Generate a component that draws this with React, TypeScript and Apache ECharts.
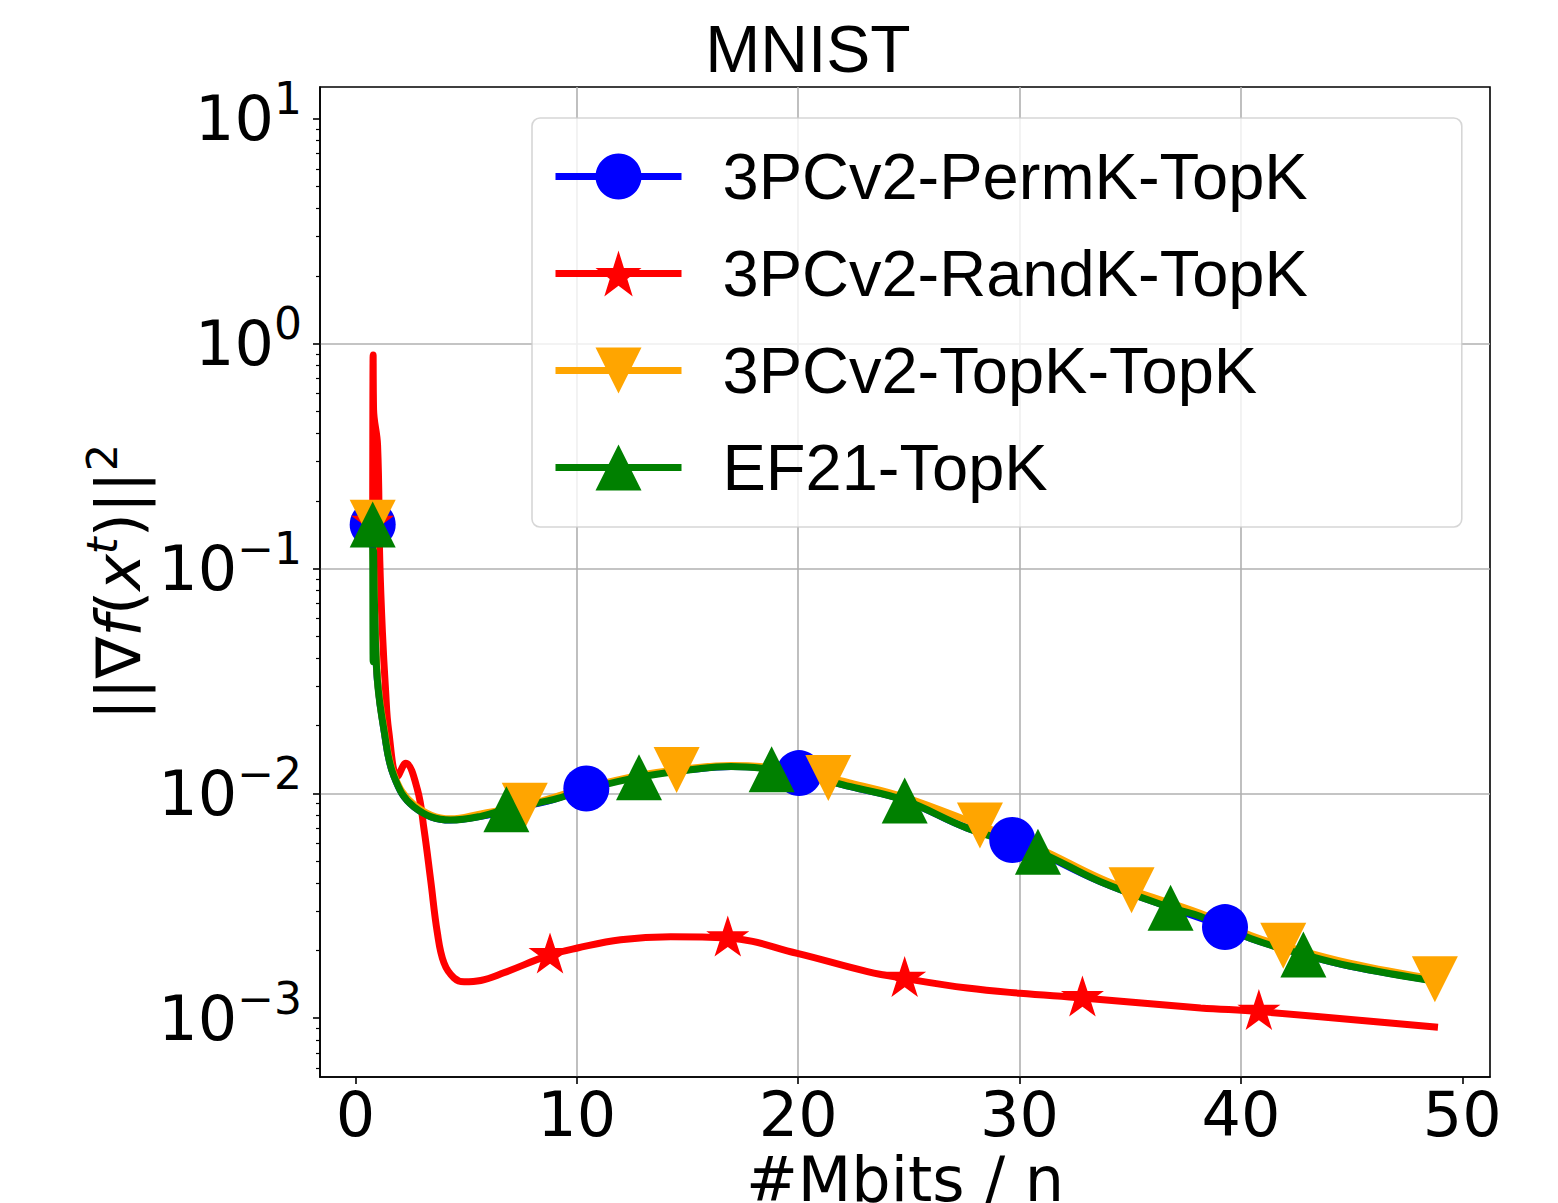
import React, { useEffect, useRef } from "react";
import * as echarts from "echarts";

const chartTitle = "MNIST";
const xTicks = [0, 10, 20, 30, 40, 50];
const yDecades = [-3, -2, -1, 0, 1];
const names = ["3PCv2-PermK-TopK", "3PCv2-RandK-TopK", "3PCv2-TopK-TopK", "EF21-TopK"];

const permkX = [0.78, 0.9, 0.99, 1.29, 1.74, 2.65, 4.3, 5.66, 7.5, 8.97, 10.43, 12.8, 15.6, 17.0, 18.8, 20.04, 22.37, 24.81, 27.64, 29.67, 30.83, 33.66, 36.82, 39.28, 40.44, 42.82, 44.96, 48.5];
const permkY = [0.157, 0.05, 0.032, 0.0191, 0.0119, 0.0087, 0.0076, 0.0079, 0.0087, 0.0094, 0.0105, 0.0119, 0.0129, 0.01315, 0.0129, 0.0123, 0.0107, 0.0093, 0.007, 0.0062, 0.0055, 0.00404, 0.0031, 0.00254, 0.00226, 0.00192, 0.0017, 0.00148];
const permkMarks = [0.78, 10.43, 20.04, 29.67, 39.28];

const randkX = [0.78, 0.8, 0.82, 1.0, 1.1, 1.22, 1.36, 1.5, 1.9, 2.27, 2.8, 3.1, 3.4, 3.7, 4.0, 4.45, 4.91, 5.66, 6.7, 8.79, 10.03, 11.98, 14.24, 16.82, 19.96, 23.13, 24.81, 27.64, 30.02, 32.84, 38.18, 40.81, 48.9];
const randkY = [0.16, 0.89, 0.51, 0.355, 0.109, 0.052, 0.029, 0.0191, 0.0119, 0.0136, 0.0104, 0.0069, 0.0041, 0.0024, 0.00176, 0.00151, 0.00145, 0.00147, 0.00159, 0.00191, 0.00205, 0.00223, 0.0023, 0.00227, 0.00194, 0.00161, 0.0015, 0.00136, 0.00129, 0.00123, 0.00111, 0.00107, 0.00091];
const randkMarks = [0.78, 8.79, 16.82, 24.81, 32.84, 40.81];

const topkX = [0.78, 0.82, 0.99, 1.29, 1.74, 2.65, 4.3, 5.66, 7.65, 8.97, 10.43, 12.81, 14.51, 16.95, 18.8, 21.36, 22.37, 24.81, 28.21, 30.83, 33.66, 35.06, 38.18, 40.44, 41.91, 44.96, 48.76];
const topkY = [0.16, 0.1, 0.033, 0.0195, 0.0121, 0.0089, 0.0077, 0.0081, 0.0088, 0.0096, 0.0106, 0.012, 0.0127, 0.0133, 0.013, 0.0117, 0.0111, 0.0096, 0.0072, 0.0057, 0.00418, 0.0037, 0.00292, 0.00233, 0.0021, 0.00175, 0.00149];
const topkMarks = [0.78, 7.65, 14.51, 21.36, 28.21, 35.06, 41.91, 48.76];

const ef21X = [0.78, 0.8, 0.82, 0.86, 0.99, 1.29, 1.74, 2.65, 4.3, 5.66, 6.82, 8.97, 10.43, 12.81, 15.6, 16.95, 18.8, 20.1, 22.37, 24.81, 27.64, 30.83, 33.66, 36.82, 38.18, 40.44, 42.82, 44.96, 48.94];
const ef21Y = [0.157, 0.0385, 0.12, 0.07, 0.032, 0.0191, 0.0119, 0.0087, 0.0076, 0.0079, 0.0085, 0.0094, 0.0104, 0.0118, 0.0129, 0.01315, 0.0128, 0.0122, 0.0107, 0.0093, 0.007, 0.0055, 0.00404, 0.0031, 0.00283, 0.00226, 0.00192, 0.0017, 0.00145];
const ef21Marks = [0.78, 6.82, 12.81, 18.8, 24.81, 30.83, 36.82, 42.82];

const STAR =
  "path://M0,-100 L22.45,-30.9 L95.1,-30.9 L36.33,11.8 L58.8,80.9 L0,38.2 L-58.8,80.9 L-36.33,11.8 L-95.1,-30.9 L-22.45,-30.9 Z";

const X_MIN = -1.6;
const X_MAX = 51.25;
const Y_MIN = -3.262;
const Y_MAX = 1.142;

function buildData(xs: number[], ys: number[], marks: number[]) {
  return xs.map((x, i) => {
    const item: any = { value: [x, Math.log10(ys[i])] };
    if (!marks.includes(x)) item.symbol = "none";
    return item;
  });
}

function minorTickValues() {
  const out: number[] = [];
  for (let n = -4; n <= 1; n++) {
    for (let k = 2; k <= 9; k++) {
      const v = Math.log10(k) + n;
      if (v > Y_MIN && v < Y_MAX) out.push(v);
    }
  }
  return out;
}

const FONT = "DejaVu Sans";
const LFONT = "Liberation Sans";
const LW = 7;

export default function App() {
  const ref = useRef<HTMLDivElement>(null);
  useEffect(() => {
    if (!ref.current) return;
    const chart = echarts.init(ref.current, null, { renderer: "svg" });
    const lineCommon = {
      type: "line",
      smooth: 0.4,
      showSymbol: true,
      emphasis: { disabled: true },
      clip: true,
    };
    const option: any = {
      animation: false,
      backgroundColor: "#ffffff",
      title: {
        text: chartTitle,
        left: 803,
        top: 11,
        textAlign: "center",
        textStyle: { fontFamily: LFONT, fontSize: 66, fontWeight: "normal", color: "#000", lineHeight: 66 },
      },
      grid: {
        left: 320,
        top: 87,
        width: 1170,
        height: 990,
        containLabel: false,
        outerBoundsMode: "none",
        show: true,
        borderColor: "#000",
        borderWidth: 1.6,
        backgroundColor: "transparent",
      },
      legend: {
        orient: "vertical",
        left: 532,
        top: 118,
        itemWidth: 126,
        itemHeight: 57.5,
        itemGap: 32,
        padding: [26, 154, 27, 20],
        backgroundColor: "rgba(255,255,255,0.8)",
        borderColor: "rgba(204,204,204,0.8)",
        borderWidth: 1.6,
        borderRadius: 8,
        lineStyle: { width: LW },
        textStyle: { fontFamily: LFONT, fontSize: 65, color: "#000", lineHeight: 65, padding: [0, 0, 0, 36] },
        data: names,
      },
      xAxis: {
        type: "value",
        min: X_MIN,
        max: X_MAX,
        minInterval: 10,
        maxInterval: 10,
        axisLine: { show: true, onZero: false, lineStyle: { color: "#000", width: 1.6 } },
        axisTick: { show: true, length: 7, lineStyle: { color: "#000", width: 1.6 }, customValues: xTicks },
        axisLabel: {
          customValues: xTicks,
          fontFamily: FONT,
          fontSize: 62,
          lineHeight: 62,
          color: "#000",
          margin: 6,
        },
        splitLine: { show: true, showMinLine: false, showMaxLine: false, lineStyle: { color: "#b0b0b0", width: 1.6 } },
        name: "#Mbits / n",
        nameLocation: "middle",
        nameGap: 71,
        nameMoveOverlap: false,
        nameTextStyle: { fontFamily: FONT, fontSize: 62, lineHeight: 62, color: "#000" },
      },
      yAxis: [
        {
          type: "value",
          min: Y_MIN,
          max: Y_MAX,
          minInterval: 1,
          maxInterval: 1,
          axisLine: { show: true, onZero: false, lineStyle: { color: "#000", width: 1.6 } },
          axisTick: { show: true, length: 7, lineStyle: { color: "#000", width: 1.6 }, customValues: yDecades },
          axisLabel: {
            customValues: yDecades,
            margin: 18,
            formatter: (v: number) => {
              const e = Math.round(v);
              return `{b|10}{s|${e < 0 ? "\u2212" + Math.abs(e) : e}}`;
            },
            rich: {
              b: { fontFamily: FONT, fontSize: 62, lineHeight: 62, color: "#000" },
              s: { fontFamily: FONT, fontSize: 44, lineHeight: 44, color: "#000", padding: [0, 0, 40, 0] },
            },
          },
          splitLine: { show: true, showMinLine: false, showMaxLine: false, lineStyle: { color: "#b0b0b0", width: 1.6 } },
          name: "{n|||\u2207}{i|f}{n|(}{i|x}{si|t}{n|)||}{s|2}",
          nameLocation: "middle",
          nameRotate: 90,
          nameGap: 171,
          nameMoveOverlap: false,
          nameTextStyle: {
            rich: {
              n: { fontFamily: FONT, fontSize: 62, lineHeight: 62, color: "#000" },
              i: { fontFamily: FONT, fontSize: 62, lineHeight: 62, color: "#000", fontStyle: "italic" },
              si: { fontFamily: FONT, fontSize: 43, lineHeight: 43, color: "#000", fontStyle: "italic", padding: [0, 0, 33, 0] },
              s: { fontFamily: FONT, fontSize: 43, lineHeight: 43, color: "#000", padding: [0, 0, 33, 0] },
            },
          },
        },
        {
          type: "value",
          min: Y_MIN,
          max: Y_MAX,
          position: "left",
          axisLine: { show: false, onZero: false },
          axisLabel: { show: false },
          splitLine: { show: false },
          axisTick: { show: true, length: 4, lineStyle: { color: "#000", width: 1.2 }, customValues: minorTickValues() },
        },
      ],
      series: [
        {
          ...lineCommon,
          name: names[0],
          data: buildData(permkX, permkY, permkMarks),
          symbol: "circle",
          symbolSize: 46,
          lineStyle: { color: "#0000ff", width: LW },
          itemStyle: { color: "#0000ff" },
        },
        {
          ...lineCommon,
          name: names[1],
          data: buildData(randkX, randkY, randkMarks),
          symbol: STAR,
          symbolSize: [43, 41],
          symbolOffset: [0, -2],
          lineStyle: { color: "#ff0000", width: LW },
          itemStyle: { color: "#ff0000" },
        },
        {
          ...lineCommon,
          name: names[2],
          data: buildData(topkX, topkY, topkMarks),
          symbol: "triangle",
          symbolRotate: 180,
          symbolSize: 46,
          lineStyle: { color: "#ffa500", width: LW },
          itemStyle: { color: "#ffa500" },
        },
        {
          ...lineCommon,
          name: names[3],
          data: buildData(ef21X, ef21Y, ef21Marks),
          symbol: "triangle",
          symbolSize: 46,
          lineStyle: { color: "#008000", width: LW },
          itemStyle: { color: "#008000" },
        },
      ],
    };
    chart.setOption(option);
    return () => chart.dispose();
  }, []);
  return (
    <div
      ref={ref}
      style={{ position: "absolute", left: 0, top: 0, width: 1558, height: 1203, background: "#fff" }}
    />
  );
}
